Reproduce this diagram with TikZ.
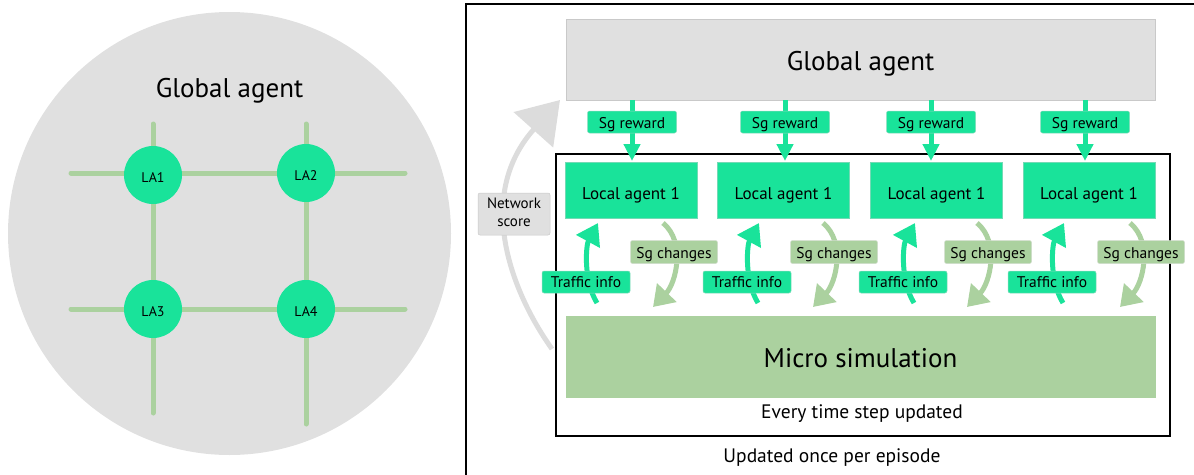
\documentclass[tikz,border=0pt]{standalone}
\usepackage{fontspec}
\setmainfont{PT Sans}
\usetikzlibrary{arrows.meta,calc}

\definecolor{agentgreen}{HTML}{19E39A}
\definecolor{simgreen}{HTML}{ABD19F}
\definecolor{panelgray}{HTML}{E0E0E0}
\definecolor{edgegray}{HTML}{C9C9C9}
\definecolor{flowgray}{HTML}{DCDCDC}

\tikzset{
  street/.style={line width=5pt, simgreen, line cap=round},
  junction/.style={circle, fill=agentgreen, minimum size=58pt, inner sep=0pt,
    font=\fontsize{14}{16}\selectfont, text height=14pt, text depth=0pt},
  bigbox/.style={draw=edgegray, line width=0.6pt, minimum width=589pt, minimum height=81pt,
    inner sep=0pt, font=\fontsize{27}{32}\selectfont, text height=21pt, text depth=0pt},
  agentbox/.style={draw=agentgreen!85!black!60, line width=0.4pt, fill=agentgreen,
    minimum width=132pt, minimum height=56pt, inner sep=0pt,
    font=\fontsize{17}{20}\selectfont, text height=18pt, text depth=0pt},
  tag/.style={rounded corners=2pt, line width=0.5pt, minimum height=22pt, inner sep=0pt,
    font=\fontsize{15.5}{18}\selectfont, text depth=0pt},
  greentag/.style={tag, fill=agentgreen, draw=agentgreen!80!black!50, minimum width=89pt},
  simtag/.style={tag, fill=simgreen, draw=simgreen!80!black!40, minimum width=87pt},
  plain/.style={anchor=base, inner sep=0pt},
  rewardarrow/.style={line width=5pt, agentgreen, -{Triangle[length=17pt,width=16pt]}},
  infoarrow/.style={line width=5pt, agentgreen, -{Triangle[length=21pt,width=26pt]}},
  changearrow/.style={line width=5pt, simgreen, -{Triangle[length=20pt,width=26pt]}},
  scorearrow/.style={line width=5pt, flowgray, -{Triangle[length=40pt,width=52pt]}},
  frame/.style={draw=black, line width=2.5pt},
}

\begin{document}
\begin{tikzpicture}[x=1pt, y=-1pt]
\useasboundingbox (0,0) rectangle (1194,474);

% ---------- left: road network inside the global agent ----------
\fill[panelgray] (229.5,233.5) circle (221.5);
\node[plain, font=\fontsize{27}{32}\selectfont] (gtitle) at (229.5,97) {Global agent};

\draw[street] (71,173) -- (405,173);
\draw[street] (71,309) -- (405,309);
\draw[street] (153,124) -- (153,413);
\draw[street] (306,124) -- (306,424);

\node[junction] (la1) at (153,175) {LA1};
\node[junction] (la2) at (306,173) {LA2};
\node[junction] (la3) at (153,309) {LA3};
\node[junction] (la4) at (306,309) {LA4};

% ---------- right: training loop ----------
\draw[frame] (466,4) rectangle (1205,485);
\draw[frame] (556,154) rectangle (1170,436);

\node[bigbox, fill=panelgray] (global) at (860.5,59.5) {Global agent};
\node[bigbox, fill=simgreen, draw=simgreen] (sim) at (860.5,356.5) {Micro simulation};

\node[plain, font=\fontsize{19.5}{23}\selectfont] (everystep) at (862,418) {Every time step updated};
\node[plain, font=\fontsize{19.5}{23}\selectfont] (perepisode) at (832,462) {Updated once per episode};

% network score fed back to the global agent
\coordinate (scorestart) at (552,349);
\coordinate (scoreend) at (560,100);
\draw[scorearrow] (scorestart) .. controls (510,290) and (475,195) .. (scoreend);
\node[tag, fill=panelgray, draw=edgegray, minimum width=72pt, minimum height=42pt,
  align=center, font=\fontsize{15}{18}\selectfont, text depth=3pt] (score) at (514,214) {Network\\score};

% one column per local agent: box x, reward x, traffic-tag x, change-tag x
\foreach \i/\bx/\rx/\tx/\sx in {1/631/632/586/674, 2/783.5/785/747/834,
                                3/936.5/931/903/988, 4/1089/1085/1052/1141} {
  \node[agentbox] (agent\i) at (\bx,190) {Local agent 1};

  % reward from the global agent
  \coordinate (rtop\i) at (\rx,100);
  \coordinate (rbot\i) at (\rx,161);
  \draw[rewardarrow] (rtop\i) -- (rbot\i);
  \node[greentag, text height=12pt] (reward\i) at (\rx,122) {Sg reward};

  % traffic info going up, signal changes going down
  \coordinate (tstart\i) at (\tx+11,303);
  \coordinate (tend\i) at (\tx+12,223);
  \draw[infoarrow] (tstart\i) .. controls (\tx-3,280) and (\tx,245) .. (tend\i);
  \coordinate (sstart\i) at (\sx-11,223);
  \coordinate (send\i) at (\sx-21,307);
  \draw[changearrow] (sstart\i) .. controls (\sx+12,242) and (\sx+2,283) .. (send\i);

  \node[greentag, minimum width=88pt, text height=10pt] (traffic\i) at (\tx,282) {Traffic info};
  \node[simtag, minimum height=23pt, text height=12pt] (changes\i) at (\sx,252) {Sg changes};
}
\end{tikzpicture}
\end{document}
